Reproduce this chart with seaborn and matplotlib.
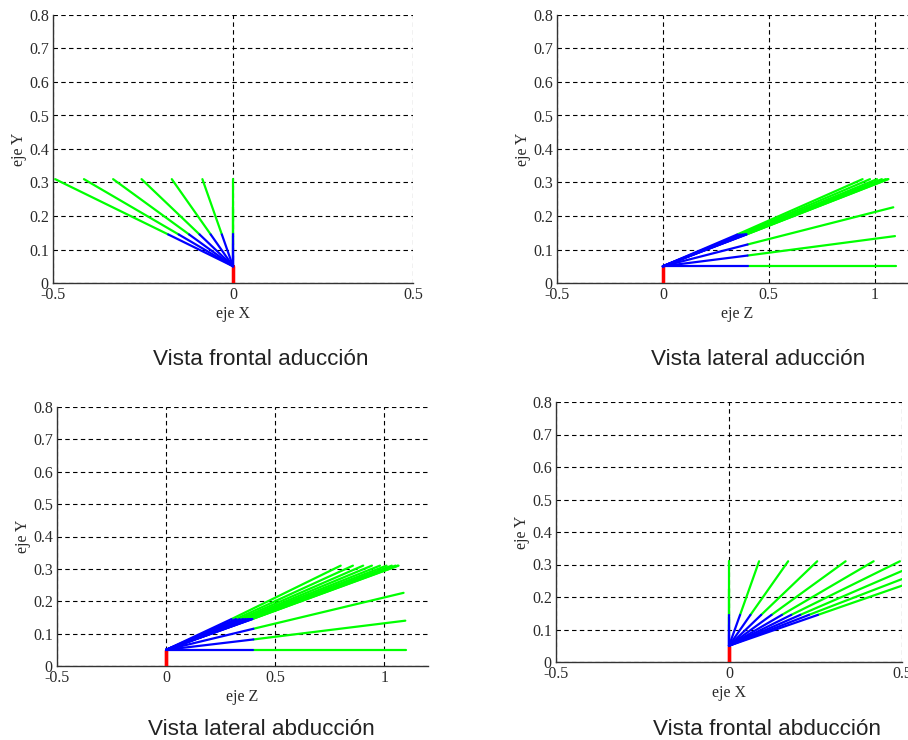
import numpy as np
import pandas as pd
import matplotlib
matplotlib.use("Agg")
import matplotlib.pyplot as plt
import seaborn as sns

# ---------------- data ----------------
# shoulder / base segment (red)
base_y = [0.0, 0.05]

# sagittal raising frames (shared by both movements), X = 0
sag_elbow_y = [0.05, 0.082, 0.115, 0.145]
sag_elbow_z = [0.40, 0.40, 0.40, 0.395]
sag_hand_y = [0.05, 0.14, 0.226, 0.31]
sag_hand_z = [1.10, 1.096, 1.088, 1.065]

# adduction frames (frontal plane moves to negative X)
add_elbow_x = [-0.031, -0.062, -0.093, -0.122, -0.151, -0.18]
add_elbow_y = [0.145, 0.145, 0.145, 0.145, 0.145, 0.145]
add_elbow_z = [0.394, 0.39, 0.384, 0.376, 0.365, 0.352]
add_hand_x = [-0.085, -0.17, -0.254, -0.333, -0.414, -0.494]
add_hand_y = [0.31, 0.31, 0.31, 0.31, 0.31, 0.31]
add_hand_z = [1.062, 1.052, 1.034, 1.011, 0.978, 0.943]

# abduction frames (positive X)
abd_elbow_x = [0.032, 0.062, 0.093, 0.123, 0.153, 0.18, 0.206, 0.231, 0.257]
abd_elbow_y = [0.145, 0.145, 0.145, 0.145, 0.145, 0.145, 0.145, 0.145, 0.145]
abd_elbow_z = [0.394, 0.39, 0.384, 0.375, 0.364, 0.352, 0.337, 0.32, 0.30]
abd_hand_x = [0.087, 0.171, 0.255, 0.337, 0.418, 0.494, 0.565, 0.634, 0.703]
abd_hand_y = [0.31, 0.31, 0.31, 0.31, 0.31, 0.31, 0.31, 0.31, 0.31]
abd_hand_z = [1.061, 1.051, 1.034, 1.010, 0.980, 0.943, 0.903, 0.856, 0.80]

titles = ["Vista frontal aducción", "Vista lateral aducción",
          "Vista lateral abducción", "Vista frontal abducción"]
yticks = [0, 0.1, 0.2, 0.3, 0.4, 0.5, 0.6, 0.7, 0.8]
yticklabels = ["0", "0.1", "0.2", "0.3", "0.4", "0.5", "0.6", "0.7", "0.8"]
xticks_front = [-0.5, 0, 0.5]
xticklabels_front = ["-0.5", "0", "0.5"]
xticks_lat = [-0.5, 0, 0.5, 1]
xticklabels_lat = ["-0.5", "0", "0.5", "1"]


def build_frames(ex, ey, ez, hx, hy, hz):
    ex = [0.0] * len(sag_elbow_y) + list(ex)
    ey = list(sag_elbow_y) + list(ey)
    ez = list(sag_elbow_z) + list(ez)
    hx = [0.0] * len(sag_hand_y) + list(hx)
    hy = list(sag_hand_y) + list(hy)
    hz = list(sag_hand_z) + list(hz)
    rows = []
    for i in range(len(ex)):
        # base (red)
        rows.append(dict(seg=f"{i}r", part="base", x=0.0, y=base_y[0], z=0.0, order=0))
        rows.append(dict(seg=f"{i}r", part="base", x=0.0, y=base_y[1], z=0.0, order=1))
        # upper arm (blue)
        rows.append(dict(seg=f"{i}b", part="arm", x=0.0, y=base_y[1], z=0.0, order=0))
        rows.append(dict(seg=f"{i}b", part="arm", x=ex[i], y=ey[i], z=ez[i], order=1))
        # forearm (green)
        rows.append(dict(seg=f"{i}g", part="fore", x=ex[i], y=ey[i], z=ez[i], order=0))
        rows.append(dict(seg=f"{i}g", part="fore", x=hx[i], y=hy[i], z=hz[i], order=1))
    return pd.DataFrame(rows)


df_add = build_frames(add_elbow_x, add_elbow_y, add_elbow_z, add_hand_x, add_hand_y, add_hand_z)
df_abd = build_frames(abd_elbow_x, abd_elbow_y, abd_elbow_z, abd_hand_x, abd_hand_y, abd_hand_z)

palette = {"base": "#ff0000", "arm": "#0000ff", "fore": "#00ff00"}

sns.set_style("white")
plt.rcParams["axes.unicode_minus"] = False
plt.rcParams["font.family"] = ["Liberation Serif", "DejaVu Serif"]

W, H = 908, 740
fig = plt.figure(figsize=(W / 100, H / 100), dpi=100)


def px_axes(left, top, width, height):
    return fig.add_axes([left / W, 1 - (top + height) / H, width / W, height / H])


# (left, top, width, height) in pixels
ax1 = px_axes(53, 15, 360, 268)
ax2 = px_axes(557, 15, 360, 268)
ax3 = px_axes(57, 407, 371, 259)
ax4 = px_axes(556, 402, 346, 260)

specs = [
    (ax1, df_add, "x", "eje X", (-0.5, 0.5), xticks_front, xticklabels_front),
    (ax2, df_add, "z", "eje Z", (-0.5, 1.2), xticks_lat, xticklabels_lat),
    (ax3, df_abd, "z", "eje Z", (-0.5, 1.2), xticks_lat, xticklabels_lat),
    (ax4, df_abd, "x", "eje X", (-0.5, 0.5), xticks_front, xticklabels_front),
]

tick_color = "#2a2a2a"
for ax, df, xcol, xlabel, xlim, xt, xtl in specs:
    for part, lw in [("base", 2.2), ("fore", 1.6), ("arm", 1.6)]:
        sub = df[df["part"] == part]
        sns.lineplot(data=sub, x=xcol, y="y", units="seg", estimator=None,
                     sort=False, hue="part", palette=palette, linewidth=lw,
                     legend=False, ax=ax, zorder=3)
    ax.set_xlim(*xlim)
    ax.set_ylim(0, 0.8)
    ax.set_xticks(xt)
    ax.set_xticklabels(xtl)
    ax.set_yticks(yticks)
    ax.set_yticklabels(yticklabels)
    ax.grid(True, color="black", linestyle=(0, (4, 3)), linewidth=0.8)
    ax.set_axisbelow(True)
    for s in ["top", "right"]:
        ax.spines[s].set_visible(False)
    for s in ["left", "bottom"]:
        ax.spines[s].set_color("#333333")
        ax.spines[s].set_linewidth(1.0)
    ax.tick_params(axis="both", length=0, pad=3, labelsize=11.5, colors=tick_color)
    ax.set_xlabel(xlabel, fontsize=11.5, color=tick_color, labelpad=2)
    ax.set_ylabel("eje Y", fontsize=11.5, color=tick_color, labelpad=1.5)
    ax.patch.set_alpha(0)

cap_kw = dict(fontsize=16.2, family=["Liberation Sans", "DejaVu Sans"],
              color="#222222", ha="center", va="baseline")
fig.text(261 / W, 1 - 365 / H, titles[0], **cap_kw)
fig.text(758 / W, 1 - 365 / H, titles[1], **cap_kw)
fig.text(261 / W, 1 - 735 / H, titles[2], **cap_kw)
fig.text(767 / W, 1 - 735 / H, titles[3], **cap_kw)

fig.savefig("out.png", dpi=100, facecolor="white")
